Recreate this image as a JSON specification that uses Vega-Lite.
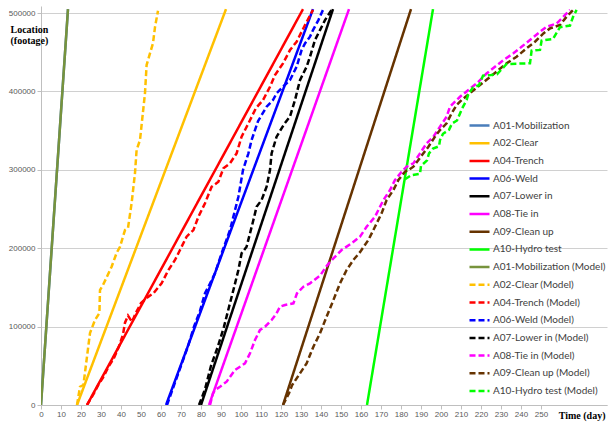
{
"$schema":"https://vega.github.io/schema/vega-lite/v6.json",
"width":566,"height":399,
"autosize":{"type":"none"},
"padding":{"left":41,"top":6,"right":1,"bottom":19},
"background":"white",
"config":{"view":{"stroke":null}},
"datasets":{"d":[
{"s":"A01-Mobilization","d":0,"v":0},{"s":"A01-Mobilization","d":13.5,"v":505000},
{"s":"A02-Clear","d":18,"v":0},{"s":"A02-Clear","d":92.5,"v":505000},
{"s":"A04-Trench","d":23,"v":0},{"s":"A04-Trench","d":131,"v":505000},
{"s":"A06-Weld","d":62.5,"v":0},{"s":"A06-Weld","d":136,"v":505000},
{"s":"A07-Lower in","d":80,"v":0},{"s":"A07-Lower in","d":146,"v":505000},
{"s":"A08-Tie in","d":84,"v":0},{"s":"A08-Tie in","d":154,"v":505000},
{"s":"A09-Clean up","d":121,"v":0},{"s":"A09-Clean up","d":185,"v":505000},
{"s":"A10-Hydro test","d":163,"v":0},{"s":"A10-Hydro test","d":196,"v":505000},
{"s":"A01-Mobilization (Model)","d":0,"v":0},{"s":"A01-Mobilization (Model)","d":13.5,"v":505000},
{"s":"A02-Clear (Model)","d":18,"v":0},{"s":"A02-Clear (Model)","d":19.5,"v":23300},{"s":"A02-Clear (Model)","d":21.2,"v":25500},{"s":"A02-Clear (Model)","d":24.5,"v":91800},{"s":"A02-Clear (Model)","d":27,"v":108400},{"s":"A02-Clear (Model)","d":29.2,"v":117300},{"s":"A02-Clear (Model)","d":29.5,"v":146700},{"s":"A02-Clear (Model)","d":31,"v":153000},{"s":"A02-Clear (Model)","d":35.3,"v":176400},{"s":"A02-Clear (Model)","d":37.8,"v":193900},{"s":"A02-Clear (Model)","d":39.5,"v":201900},{"s":"A02-Clear (Model)","d":42,"v":223200},{"s":"A02-Clear (Model)","d":43.5,"v":225800},{"s":"A02-Clear (Model)","d":45.3,"v":257400},{"s":"A02-Clear (Model)","d":47,"v":295900},{"s":"A02-Clear (Model)","d":47.8,"v":325300},{"s":"A02-Clear (Model)","d":49.5,"v":338000},{"s":"A02-Clear (Model)","d":52,"v":398000},{"s":"A02-Clear (Model)","d":52.8,"v":433700},{"s":"A02-Clear (Model)","d":56,"v":461700},{"s":"A02-Clear (Model)","d":57,"v":482100},{"s":"A02-Clear (Model)","d":58.5,"v":503000},
{"s":"A04-Trench (Model)","d":23,"v":0},{"s":"A04-Trench (Model)","d":26.5,"v":15000},{"s":"A04-Trench (Model)","d":28.5,"v":25000},{"s":"A04-Trench (Model)","d":31,"v":35000},{"s":"A04-Trench (Model)","d":34,"v":50000},{"s":"A04-Trench (Model)","d":36.5,"v":60000},{"s":"A04-Trench (Model)","d":39,"v":75000},{"s":"A04-Trench (Model)","d":41,"v":90000},{"s":"A04-Trench (Model)","d":42,"v":105000},{"s":"A04-Trench (Model)","d":43.5,"v":114000},{"s":"A04-Trench (Model)","d":45.5,"v":106000},{"s":"A04-Trench (Model)","d":47.5,"v":118000},{"s":"A04-Trench (Model)","d":50,"v":130000},{"s":"A04-Trench (Model)","d":53,"v":137000},{"s":"A04-Trench (Model)","d":56.2,"v":142500},{"s":"A04-Trench (Model)","d":60.3,"v":155200},{"s":"A04-Trench (Model)","d":63.7,"v":172200},{"s":"A04-Trench (Model)","d":67,"v":185000},{"s":"A04-Trench (Model)","d":69.5,"v":197700},{"s":"A04-Trench (Model)","d":72.8,"v":214700},{"s":"A04-Trench (Model)","d":76.2,"v":223200},{"s":"A04-Trench (Model)","d":78.7,"v":240200},{"s":"A04-Trench (Model)","d":82,"v":257300},{"s":"A04-Trench (Model)","d":85.3,"v":278400},{"s":"A04-Trench (Model)","d":88.7,"v":284800},{"s":"A04-Trench (Model)","d":91.2,"v":301900},{"s":"A04-Trench (Model)","d":94.5,"v":308300},{"s":"A04-Trench (Model)","d":97.8,"v":321000},{"s":"A04-Trench (Model)","d":100.3,"v":342300},{"s":"A04-Trench (Model)","d":103.7,"v":359300},{"s":"A04-Trench (Model)","d":107.5,"v":378800},{"s":"A04-Trench (Model)","d":111,"v":389000},{"s":"A04-Trench (Model)","d":114.5,"v":406000},{"s":"A04-Trench (Model)","d":117,"v":420900},{"s":"A04-Trench (Model)","d":121,"v":435800},{"s":"A04-Trench (Model)","d":124.5,"v":452800},{"s":"A04-Trench (Model)","d":127.8,"v":463400},{"s":"A04-Trench (Model)","d":132,"v":484700},{"s":"A04-Trench (Model)","d":136,"v":504000},
{"s":"A06-Weld (Model)","d":63,"v":0},{"s":"A06-Weld (Model)","d":66.5,"v":25000},{"s":"A06-Weld (Model)","d":70,"v":50000},{"s":"A06-Weld (Model)","d":73.5,"v":75000},{"s":"A06-Weld (Model)","d":76.5,"v":100000},{"s":"A06-Weld (Model)","d":79.5,"v":120000},{"s":"A06-Weld (Model)","d":82,"v":142500},{"s":"A06-Weld (Model)","d":84.5,"v":155000},{"s":"A06-Weld (Model)","d":87,"v":168000},{"s":"A06-Weld (Model)","d":90.3,"v":193500},{"s":"A06-Weld (Model)","d":94.5,"v":223200},{"s":"A06-Weld (Model)","d":98.7,"v":265700},{"s":"A06-Weld (Model)","d":101,"v":299700},{"s":"A06-Weld (Model)","d":103.7,"v":321000},{"s":"A06-Weld (Model)","d":105.3,"v":338000},{"s":"A06-Weld (Model)","d":108.5,"v":362000},{"s":"A06-Weld (Model)","d":112.8,"v":380500},{"s":"A06-Weld (Model)","d":116,"v":389000},{"s":"A06-Weld (Model)","d":117.8,"v":397600},{"s":"A06-Weld (Model)","d":121,"v":406000},{"s":"A06-Weld (Model)","d":124.5,"v":414500},{"s":"A06-Weld (Model)","d":127.8,"v":431500},{"s":"A06-Weld (Model)","d":130.3,"v":452800},{"s":"A06-Weld (Model)","d":132,"v":461300},{"s":"A06-Weld (Model)","d":134.5,"v":469800},{"s":"A06-Weld (Model)","d":136,"v":478300},{"s":"A06-Weld (Model)","d":138.7,"v":491000},{"s":"A06-Weld (Model)","d":141,"v":504000},
{"s":"A07-Lower in (Model)","d":79,"v":0},{"s":"A07-Lower in (Model)","d":82,"v":20000},{"s":"A07-Lower in (Model)","d":85,"v":50000},{"s":"A07-Lower in (Model)","d":88.5,"v":75000},{"s":"A07-Lower in (Model)","d":91.5,"v":100000},{"s":"A07-Lower in (Model)","d":94,"v":125000},{"s":"A07-Lower in (Model)","d":96.2,"v":146700},{"s":"A07-Lower in (Model)","d":98.7,"v":172200},{"s":"A07-Lower in (Model)","d":100.3,"v":193500},{"s":"A07-Lower in (Model)","d":102.8,"v":201900},{"s":"A07-Lower in (Model)","d":104.5,"v":219000},{"s":"A07-Lower in (Model)","d":106.2,"v":236000},{"s":"A07-Lower in (Model)","d":107.8,"v":252900},{"s":"A07-Lower in (Model)","d":110.3,"v":261500},{"s":"A07-Lower in (Model)","d":112.8,"v":278400},{"s":"A07-Lower in (Model)","d":114.5,"v":299700},{"s":"A07-Lower in (Model)","d":115.3,"v":321000},{"s":"A07-Lower in (Model)","d":117.8,"v":342300},{"s":"A07-Lower in (Model)","d":121.5,"v":358000},{"s":"A07-Lower in (Model)","d":124.5,"v":368000},{"s":"A07-Lower in (Model)","d":127,"v":389000},{"s":"A07-Lower in (Model)","d":129.5,"v":414500},{"s":"A07-Lower in (Model)","d":132.8,"v":431500},{"s":"A07-Lower in (Model)","d":134.5,"v":444300},{"s":"A07-Lower in (Model)","d":137,"v":465600},{"s":"A07-Lower in (Model)","d":139.5,"v":478300},{"s":"A07-Lower in (Model)","d":142,"v":491000},{"s":"A07-Lower in (Model)","d":145.3,"v":504000},
{"s":"A08-Tie in (Model)","d":84.5,"v":0},{"s":"A08-Tie in (Model)","d":86,"v":15000},{"s":"A08-Tie in (Model)","d":87,"v":19000},{"s":"A08-Tie in (Model)","d":89.5,"v":23300},{"s":"A08-Tie in (Model)","d":92.8,"v":29800},{"s":"A08-Tie in (Model)","d":97,"v":44600},{"s":"A08-Tie in (Model)","d":102,"v":53100},{"s":"A08-Tie in (Model)","d":104.5,"v":66000},{"s":"A08-Tie in (Model)","d":107,"v":82900},{"s":"A08-Tie in (Model)","d":109.5,"v":95700},{"s":"A08-Tie in (Model)","d":112,"v":99900},{"s":"A08-Tie in (Model)","d":115.3,"v":108400},{"s":"A08-Tie in (Model)","d":117.8,"v":117000},{"s":"A08-Tie in (Model)","d":119.5,"v":125400},{"s":"A08-Tie in (Model)","d":122,"v":127600},{"s":"A08-Tie in (Model)","d":126.2,"v":129700},{"s":"A08-Tie in (Model)","d":128,"v":142500},{"s":"A08-Tie in (Model)","d":131.2,"v":150900},{"s":"A08-Tie in (Model)","d":134.5,"v":155200},{"s":"A08-Tie in (Model)","d":139.5,"v":165000},{"s":"A08-Tie in (Model)","d":143,"v":178000},{"s":"A08-Tie in (Model)","d":146.2,"v":187100},{"s":"A08-Tie in (Model)","d":150.3,"v":197700},{"s":"A08-Tie in (Model)","d":155.3,"v":206200},{"s":"A08-Tie in (Model)","d":159.5,"v":214700},{"s":"A08-Tie in (Model)","d":162.8,"v":227400},{"s":"A08-Tie in (Model)","d":167,"v":240200},{"s":"A08-Tie in (Model)","d":171.2,"v":261500},{"s":"A08-Tie in (Model)","d":174.5,"v":274200},{"s":"A08-Tie in (Model)","d":177,"v":287000},{"s":"A08-Tie in (Model)","d":180.3,"v":297600},{"s":"A08-Tie in (Model)","d":182.8,"v":304000},{"s":"A08-Tie in (Model)","d":186.2,"v":308300},{"s":"A08-Tie in (Model)","d":189.5,"v":321000},{"s":"A08-Tie in (Model)","d":192.8,"v":333800},{"s":"A08-Tie in (Model)","d":196.2,"v":342300},{"s":"A08-Tie in (Model)","d":199.5,"v":355000},{"s":"A08-Tie in (Model)","d":202.8,"v":367700},{"s":"A08-Tie in (Model)","d":204.5,"v":380500},{"s":"A08-Tie in (Model)","d":209.5,"v":393200},{"s":"A08-Tie in (Model)","d":213.7,"v":401800},{"s":"A08-Tie in (Model)","d":217.8,"v":410200},{"s":"A08-Tie in (Model)","d":222.8,"v":422900},{"s":"A08-Tie in (Model)","d":227,"v":431500},{"s":"A08-Tie in (Model)","d":231.2,"v":440000},{"s":"A08-Tie in (Model)","d":236.2,"v":448600},{"s":"A08-Tie in (Model)","d":240.3,"v":457000},{"s":"A08-Tie in (Model)","d":244.5,"v":465600},{"s":"A08-Tie in (Model)","d":249.5,"v":476100},{"s":"A08-Tie in (Model)","d":252.8,"v":482500},{"s":"A08-Tie in (Model)","d":257.8,"v":486700},{"s":"A08-Tie in (Model)","d":262.8,"v":499500},{"s":"A08-Tie in (Model)","d":264.5,"v":504000},
{"s":"A09-Clean up (Model)","d":121,"v":0},{"s":"A09-Clean up (Model)","d":124,"v":15000},{"s":"A09-Clean up (Model)","d":125.5,"v":25000},{"s":"A09-Clean up (Model)","d":129.5,"v":40400},{"s":"A09-Clean up (Model)","d":132.8,"v":53100},{"s":"A09-Clean up (Model)","d":136.2,"v":74400},{"s":"A09-Clean up (Model)","d":139.5,"v":91500},{"s":"A09-Clean up (Model)","d":142.8,"v":112600},{"s":"A09-Clean up (Model)","d":146.2,"v":133900},{"s":"A09-Clean up (Model)","d":149.5,"v":155200},{"s":"A09-Clean up (Model)","d":152.8,"v":172200},{"s":"A09-Clean up (Model)","d":156.2,"v":185000},{"s":"A09-Clean up (Model)","d":159.5,"v":195000},{"s":"A09-Clean up (Model)","d":163.7,"v":210500},{"s":"A09-Clean up (Model)","d":167,"v":227400},{"s":"A09-Clean up (Model)","d":170.3,"v":244500},{"s":"A09-Clean up (Model)","d":172.8,"v":261500},{"s":"A09-Clean up (Model)","d":176.2,"v":274200},{"s":"A09-Clean up (Model)","d":178.7,"v":287000},{"s":"A09-Clean up (Model)","d":182,"v":297600},{"s":"A09-Clean up (Model)","d":183.7,"v":299700},{"s":"A09-Clean up (Model)","d":186.2,"v":304000},{"s":"A09-Clean up (Model)","d":188.7,"v":312500},{"s":"A09-Clean up (Model)","d":191.2,"v":321000},{"s":"A09-Clean up (Model)","d":193.7,"v":329500},{"s":"A09-Clean up (Model)","d":197,"v":342300},{"s":"A09-Clean up (Model)","d":199.5,"v":350800},{"s":"A09-Clean up (Model)","d":202.8,"v":359300},{"s":"A09-Clean up (Model)","d":205.3,"v":372000},{"s":"A09-Clean up (Model)","d":207.8,"v":382700},{"s":"A09-Clean up (Model)","d":210.3,"v":389000},{"s":"A09-Clean up (Model)","d":215.3,"v":399600},{"s":"A09-Clean up (Model)","d":219.5,"v":408200},{"s":"A09-Clean up (Model)","d":223.7,"v":416700},{"s":"A09-Clean up (Model)","d":228.7,"v":427300},{"s":"A09-Clean up (Model)","d":232.8,"v":435800},{"s":"A09-Clean up (Model)","d":237.8,"v":444300},{"s":"A09-Clean up (Model)","d":242.8,"v":455000},{"s":"A09-Clean up (Model)","d":247,"v":463400},{"s":"A09-Clean up (Model)","d":251.2,"v":474000},{"s":"A09-Clean up (Model)","d":254.5,"v":480400},{"s":"A09-Clean up (Model)","d":259.5,"v":484700},{"s":"A09-Clean up (Model)","d":262.8,"v":495300},{"s":"A09-Clean up (Model)","d":266.2,"v":504000},
{"s":"A10-Hydro test (Model)","d":182,"v":288000},{"s":"A10-Hydro test (Model)","d":185,"v":293000},{"s":"A10-Hydro test (Model)","d":189.5,"v":295000},{"s":"A10-Hydro test (Model)","d":190,"v":305000},{"s":"A10-Hydro test (Model)","d":193,"v":312000},{"s":"A10-Hydro test (Model)","d":194,"v":321000},{"s":"A10-Hydro test (Model)","d":196,"v":327000},{"s":"A10-Hydro test (Model)","d":199,"v":330000},{"s":"A10-Hydro test (Model)","d":199.5,"v":338000},{"s":"A10-Hydro test (Model)","d":201,"v":346000},{"s":"A10-Hydro test (Model)","d":204,"v":351000},{"s":"A10-Hydro test (Model)","d":205.5,"v":359000},{"s":"A10-Hydro test (Model)","d":208,"v":363000},{"s":"A10-Hydro test (Model)","d":209.5,"v":372000},{"s":"A10-Hydro test (Model)","d":210.5,"v":378000},{"s":"A10-Hydro test (Model)","d":212.8,"v":389000},{"s":"A10-Hydro test (Model)","d":213.7,"v":397000},{"s":"A10-Hydro test (Model)","d":216,"v":405000},{"s":"A10-Hydro test (Model)","d":219,"v":408000},{"s":"A10-Hydro test (Model)","d":221,"v":420000},{"s":"A10-Hydro test (Model)","d":225,"v":421000},{"s":"A10-Hydro test (Model)","d":228,"v":422000},{"s":"A10-Hydro test (Model)","d":232.8,"v":435000},{"s":"A10-Hydro test (Model)","d":244.5,"v":436000},{"s":"A10-Hydro test (Model)","d":245.3,"v":452000},{"s":"A10-Hydro test (Model)","d":249.5,"v":453000},{"s":"A10-Hydro test (Model)","d":250.3,"v":465000},{"s":"A10-Hydro test (Model)","d":256,"v":467000},{"s":"A10-Hydro test (Model)","d":259.5,"v":482000},{"s":"A10-Hydro test (Model)","d":264.5,"v":484000},{"s":"A10-Hydro test (Model)","d":266,"v":495000},{"s":"A10-Hydro test (Model)","d":267.8,"v":504000}
]},
"data":{"name":"d"},
"mark":{"type":"line","strokeWidth":2.5,"clip":true},
"encoding":{
"x":{"field":"d","type":"quantitative","scale":{"domain":[0,283],"nice":false,"zero":false},
 "axis":{"values":[0,10,20,30,40,50,60,70,80,90,100,110,120,130,140,150,160,170,180,190,200,210,220,230,240,250],"grid":false,"labelFont":"Liberation Sans","labelFontSize":8,"labelColor":"#595959","domainColor":"#BFBFBF","tickColor":"#BFBFBF","tickSize":4,"labelPadding":1,"labelFlush":false,
  "title":"Time (day)","titleFont":"Liberation Serif","titleFontWeight":"bold","titleFontSize":10,"titleColor":"#000000","titleAlign":"right","titleBaseline":"middle","titleX":564,"titleY":10}},
"y":{"field":"v","type":"quantitative","scale":{"domain":[0,509000],"nice":false},
 "axis":{"values":[0,100000,200000,300000,400000,500000],"format":"d","grid":true,"gridColor":"#D0D0D0","labelFont":"Liberation Sans","labelFontSize":8,"labelColor":"#595959","domainColor":"#BFBFBF","tickColor":"#BFBFBF","tickSize":4,"labelPadding":2,"labelFlush":false,
  "title":["Location","(footage)"],"titleFont":"Liberation Serif","titleFontWeight":"bold","titleFontSize":10,"titleColor":"#000000","titleAngle":0,"titleAlign":"left","titleBaseline":"top","titleX":-31,"titleY":18,"titleLineHeight":11}},
"color":{"field":"s","type":"nominal","scale":{
  "domain":["A01-Mobilization","A02-Clear","A04-Trench","A06-Weld","A07-Lower in","A08-Tie in","A09-Clean up","A10-Hydro test","A01-Mobilization (Model)","A02-Clear (Model)","A04-Trench (Model)","A06-Weld (Model)","A07-Lower in (Model)","A08-Tie in (Model)","A09-Clean up (Model)","A10-Hydro test (Model)"],
  "range":["#4A7EBB","#FFC000","#FF0000","#0000FF","#000000","#FF00FF","#663300","#00FF00","#77933C","#FFC000","#FF0000","#0000FF","#000000","#FF00FF","#663300","#00FF00"]},
  "legend":{"title":null,"orient":"none","legendX":427,"legendY":108,"padding":0,"symbolType":"stroke","symbolSize":400,"symbolStrokeWidth":2.5,"labelFont":"Lato","labelFontSize":10,"labelColor":"#404040","labelOffset":2,"rowPadding":0.7,"labelLimit":200}},
"strokeDash":{"field":"s","type":"nominal","scale":{
  "domain":["A01-Mobilization","A02-Clear","A04-Trench","A06-Weld","A07-Lower in","A08-Tie in","A09-Clean up","A10-Hydro test","A01-Mobilization (Model)","A02-Clear (Model)","A04-Trench (Model)","A06-Weld (Model)","A07-Lower in (Model)","A08-Tie in (Model)","A09-Clean up (Model)","A10-Hydro test (Model)"],
  "range":[[1,0],[1,0],[1,0],[1,0],[1,0],[1,0],[1,0],[1,0],[1,0],[6,3],[6,3],[6,3],[6,3],[6,3],[6,3],[6,3]]}}
}
}
